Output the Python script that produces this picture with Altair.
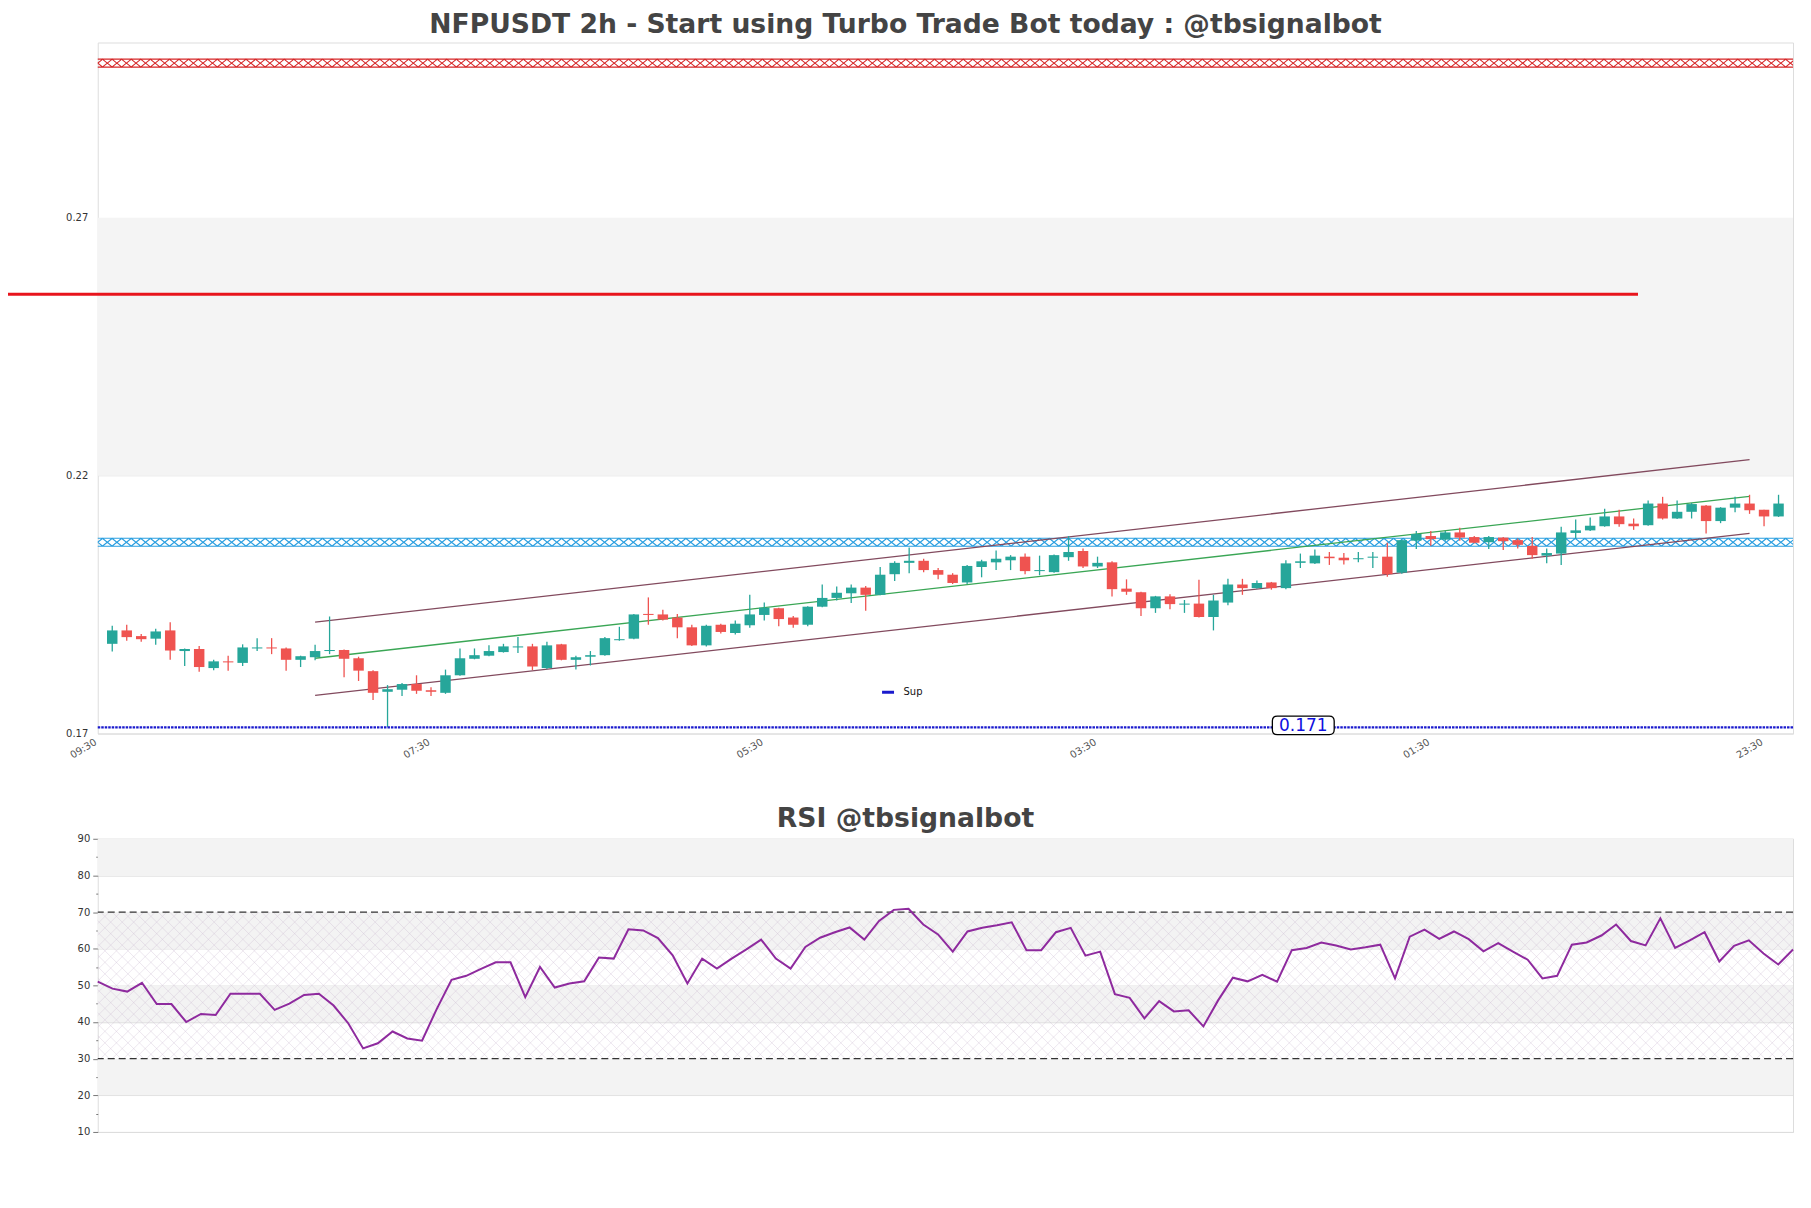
import altair as alt
import pandas as pd

FONT = "DejaVu Sans"
title_main = "NFPUSDT 2h - Start using Turbo Trade Bot today : @tbsignalbot"
title_rsi = "RSI @tbsignalbot"

# ---- candles (2h bars, first bar at 11:30) ----
opens = [0.1874, 0.1900, 0.1889, 0.1884, 0.1900, 0.1860, 0.1864, 0.1827, 0.1840, 0.1837,
         0.1865, 0.1867, 0.1865, 0.1843, 0.1848, 0.1860, 0.1862, 0.1846, 0.1821, 0.1781,
         0.1785, 0.1796, 0.1784, 0.1779, 0.1813, 0.1845, 0.1851, 0.1858, 0.1867, 0.1869,
         0.1827, 0.1873, 0.1843, 0.1849, 0.1852, 0.1881, 0.1884, 0.1932, 0.1931, 0.1925,
         0.1906, 0.1871, 0.1911, 0.1895, 0.1910, 0.1930, 0.1943, 0.1925, 0.1911, 0.1946,
         0.1963, 0.1972, 0.1983, 0.1969, 0.2009, 0.2031, 0.2035, 0.2017, 0.2008, 0.1993,
         0.2023, 0.2032, 0.2036, 0.2043, 0.2015, 0.2013, 0.2042, 0.2054, 0.2024, 0.2032,
         0.1981, 0.1974, 0.1943, 0.1966, 0.1950, 0.1952, 0.1926, 0.1954, 0.1989, 0.1982,
         0.1993, 0.1982, 0.2031, 0.2030, 0.2043, 0.2041, 0.2038, 0.2041, 0.2043, 0.2012,
         0.2074, 0.2083, 0.2076, 0.2090, 0.2081, 0.2071, 0.2080, 0.2075, 0.2064, 0.2045,
         0.2049, 0.2089, 0.2094, 0.2102, 0.2121, 0.2107, 0.2104, 0.2146, 0.2117, 0.2130,
         0.2142, 0.2112, 0.2138, 0.2146, 0.2134, 0.2121]
highs = [0.1909, 0.1911, 0.1893, 0.1903, 0.1916, 0.1865, 0.1870, 0.1843, 0.1851, 0.1873,
         0.1885, 0.1885, 0.1867, 0.1851, 0.1872, 0.1927, 0.1863, 0.1849, 0.1823, 0.1794,
         0.1798, 0.1813, 0.1790, 0.1824, 0.1865, 0.1865, 0.1871, 0.1874, 0.1887, 0.1874,
         0.1878, 0.1874, 0.1851, 0.1860, 0.1887, 0.1907, 0.1932, 0.1964, 0.1940, 0.1932,
         0.1911, 0.1911, 0.1913, 0.1919, 0.1969, 0.1954, 0.1944, 0.1928, 0.1947, 0.1989,
         0.1985, 0.1989, 0.1986, 0.2023, 0.2034, 0.2061, 0.2039, 0.2021, 0.2011, 0.2027,
         0.2037, 0.2055, 0.2046, 0.2049, 0.2045, 0.2047, 0.2083, 0.2059, 0.2043, 0.2034,
         0.1999, 0.1975, 0.1967, 0.1970, 0.1959, 0.1998, 0.1969, 0.2000, 0.2000, 0.1997,
         0.1994, 0.2036, 0.2049, 0.2057, 0.2052, 0.2050, 0.2052, 0.2052, 0.2070, 0.2076,
         0.2093, 0.2093, 0.2093, 0.2099, 0.2083, 0.2083, 0.2081, 0.2078, 0.2081, 0.2059,
         0.2101, 0.2115, 0.2119, 0.2136, 0.2134, 0.2117, 0.2152, 0.2159, 0.2152, 0.2147,
         0.2143, 0.2139, 0.2159, 0.2163, 0.2134, 0.2163]
lows = [0.1859, 0.1880, 0.1878, 0.1872, 0.1843, 0.1831, 0.1820, 0.1823, 0.1822, 0.1831,
        0.1860, 0.1854, 0.1822, 0.1829, 0.1842, 0.1854, 0.1809, 0.1802, 0.1765, 0.1713,
        0.1773, 0.1777, 0.1773, 0.1777, 0.1812, 0.1844, 0.1850, 0.1857, 0.1856, 0.1823,
        0.1825, 0.1842, 0.1824, 0.1832, 0.1851, 0.1880, 0.1883, 0.1911, 0.1919, 0.1885,
        0.1870, 0.1869, 0.1894, 0.1892, 0.1905, 0.1919, 0.1908, 0.1905, 0.1908, 0.1945,
        0.1958, 0.1953, 0.1938, 0.1968, 0.1996, 0.2011, 0.2013, 0.1999, 0.1990, 0.1990,
        0.2003, 0.2017, 0.2017, 0.2009, 0.2007, 0.2012, 0.2035, 0.2021, 0.2021, 0.1966,
        0.1969, 0.1928, 0.1934, 0.1941, 0.1934, 0.1925, 0.1900, 0.1949, 0.1969, 0.1981,
        0.1979, 0.1980, 0.2021, 0.2029, 0.2027, 0.2028, 0.2032, 0.2021, 0.2004, 0.2010,
        0.2058, 0.2064, 0.2074, 0.2074, 0.2069, 0.2058, 0.2056, 0.2059, 0.2039, 0.2030,
        0.2027, 0.2078, 0.2093, 0.2101, 0.2101, 0.2095, 0.2103, 0.2115, 0.2116, 0.2117,
        0.2088, 0.2108, 0.2129, 0.2126, 0.2102, 0.2120]
closes = [0.1900, 0.1887, 0.1883, 0.1898, 0.1861, 0.1864, 0.1829, 0.1840, 0.1838, 0.1867,
          0.1867, 0.1865, 0.1843, 0.1850, 0.1860, 0.1862, 0.1845, 0.1822, 0.1779, 0.1786,
          0.1796, 0.1783, 0.1781, 0.1813, 0.1846, 0.1852, 0.1860, 0.1869, 0.1869, 0.1830,
          0.1871, 0.1843, 0.1848, 0.1852, 0.1885, 0.1883, 0.1931, 0.1930, 0.1921, 0.1906,
          0.1871, 0.1909, 0.1897, 0.1913, 0.1931, 0.1944, 0.1922, 0.1911, 0.1946, 0.1963,
          0.1973, 0.1983, 0.1969, 0.2008, 0.2031, 0.2035, 0.2017, 0.2008, 0.1992, 0.2025,
          0.2034, 0.2039, 0.2043, 0.2015, 0.2017, 0.2046, 0.2052, 0.2024, 0.2031, 0.1980,
          0.1975, 0.1943, 0.1966, 0.1951, 0.1952, 0.1926, 0.1958, 0.1989, 0.1982, 0.1992,
          0.1982, 0.2030, 0.2034, 0.2045, 0.2040, 0.2036, 0.2040, 0.2043, 0.2009, 0.2075,
          0.2087, 0.2077, 0.2090, 0.2080, 0.2070, 0.2081, 0.2073, 0.2066, 0.2046, 0.2050,
          0.2090, 0.2094, 0.2103, 0.2121, 0.2106, 0.2102, 0.2146, 0.2117, 0.2130, 0.2145,
          0.2112, 0.2138, 0.2146, 0.2133, 0.2121, 0.2146]

rsi_values = [51.0, 49.1, 48.3, 50.7, 44.9, 44.9, 40.0, 42.2, 41.9, 47.7,
              47.7, 47.7, 43.3, 45.0, 47.4, 47.7, 44.5, 39.6, 32.8, 34.2,
              37.4, 35.5, 34.9, 43.6, 51.5, 52.6, 54.5, 56.3, 56.3, 46.8,
              55.0, 49.4, 50.5, 51.1, 57.6, 57.3, 65.3, 65.0, 62.9, 58.2,
              50.5, 57.3, 54.6, 57.3, 59.8, 62.5, 57.3, 54.6, 60.5, 63.0,
              64.5, 65.8, 62.5, 67.6, 70.6, 70.9, 66.6, 63.9, 59.2, 64.7,
              65.7, 66.4, 67.2, 59.6, 59.6, 64.5, 65.7, 58.1, 59.2, 47.6,
              46.6, 41.0, 45.7, 42.9, 43.2, 38.8, 45.9, 52.1, 51.1, 52.9,
              51.0, 59.6, 60.2, 61.7, 60.9, 59.8, 60.4, 61.1, 51.9, 63.3,
              65.2, 62.7, 64.7, 62.6, 59.3, 61.5, 59.2, 57.0, 51.9, 52.6,
              61.1, 61.7, 63.6, 66.6, 62.1, 60.9, 68.3, 60.2, 62.3, 64.5,
              56.5, 60.8, 62.3, 58.7, 55.7, 59.8]

tick_index = [-1, 22, 45, 68, 91, 114]
tick_labels = ["09:30", "07:30", "05:30", "03:30", "01:30", "23:30"]
price_ticks = [0.17, 0.22, 0.27]
price_domain = [0.17, 0.304]
x_domain = [-1, 116]
grey_band = [0.22, 0.27]

resist_hatch_level = 0.300
support_hatch_level = 0.2071
red_line_level = 0.2552
red_line_span = [-7.3, 105.3]
sup_level = 0.1712
sup_label_text = "0.171"
sup_label_pos = [82.2, 0.1716]

channel_span = [14, 113]
channel_upper = [0.1916, 0.2231]
channel_mid = [0.1846, 0.2160]
channel_lower = [0.1774, 0.2088]

rsi_domain = [10, 90]
rsi_grey_bands = [[80, 90], [60, 70], [40, 50], [20, 30]]
rsi_levels = [70, 30]

# ---- frames ----
n = len(opens)
candles = pd.DataFrame({"i": list(range(n)), "open": opens, "high": highs,
                        "low": lows, "close": closes})
rsi_df = pd.DataFrame({"i": list(range(n)), "rsi": rsi_values})

UP, DOWN = "#26a69a", "#ef5350"
up_test = "datum.close >= datum.open"

xs = alt.Scale(domain=x_domain, nice=False, zero=False)
ys = alt.Scale(domain=price_domain, nice=False, zero=False)

label_expr = " : ".join(f"datum.value == {v} ? '{t}'" for v, t in zip(tick_index, tick_labels)) + " : ''"
x_axis = alt.Axis(values=tick_index, labelExpr=label_expr, labelAngle=-31, labelAlign="right",
                  labelBaseline="top", labelFontSize=10, labelFont=FONT, labelColor="#555555",
                  ticks=False, domain=False, grid=False, title=None, labelPadding=3,
                  labelOffset=-5)
y_axis = alt.Axis(values=price_ticks, format=".2f", labelFontSize=10, labelFont=FONT,
                  labelColor="#333333", ticks=False, domain=False, grid=True,
                  gridColor="#dddddd", title=None, labelPadding=10)


def X(f):
    return alt.X(f, type="quantitative", scale=xs, axis=x_axis)


def Y(f):
    return alt.Y(f, type="quantitative", scale=ys, axis=y_axis)


band = alt.Chart(pd.DataFrame({"lo": [grey_band[0]], "hi": [grey_band[1]]})).mark_rect(
    color="#f4f4f4").encode(y=Y("lo"), y2="hi")

HATCH = "M-1,-0.8L1,0.8M-1,0.8L1,-0.8M-1,-0.8L1,-0.8M-1,0.8L1,0.8"


def hatch_line(level, color):
    return alt.Chart(alt.sequence(x_domain[0], x_domain[1] + 0.01, 0.66, as_="i")).transform_calculate(
        lvl=str(level)).mark_point(shape=HATCH, size=100, filled=False, strokeWidth=1.1,
                                   color=color, opacity=1, clip=True).encode(x=X("i"), y=Y("lvl"))


red_hatch = hatch_line(resist_hatch_level, "#d62728")
blue_hatch = hatch_line(support_hatch_level, "#2b9fe0")

red_line = alt.Chart(pd.DataFrame({"x": [red_line_span[0]], "x2": [red_line_span[1]],
                                   "y": [red_line_level]})).mark_rule(
    color="#e8141c", strokeWidth=3).encode(x=X("x"), x2="x2", y=Y("y"))

chan_df = pd.DataFrame({
    "x": [channel_span[0]] * 3, "x2": [channel_span[1]] * 3,
    "y": [channel_upper[0], channel_mid[0], channel_lower[0]],
    "y2": [channel_upper[1], channel_mid[1], channel_lower[1]],
    "kind": ["upper", "mid", "lower"]})
channel = alt.Chart(chan_df).mark_rule(strokeWidth=1.3).encode(
    x=X("x"), x2="x2", y=Y("y"), y2="y2",
    color=alt.condition("datum.kind == 'mid'", alt.value("#3aa655"), alt.value("#824a5e")))

base = alt.Chart(candles)
wicks = base.mark_rule(strokeWidth=1.3).encode(
    x=X("i"), y=Y("low"), y2="high",
    color=alt.condition(up_test, alt.value(UP), alt.value(DOWN)))
bodies = base.mark_rule(strokeWidth=10.5, strokeCap="butt").encode(
    x=X("i"), y=Y("open"), y2="close",
    color=alt.condition(up_test, alt.value(UP), alt.value(DOWN)))

sup = alt.Chart(pd.DataFrame({"y": [sup_level], "name": ["Sup"]})).mark_rule(
    strokeDash=[2.5, 1], strokeWidth=2.5).encode(
    y=Y("y"),
    color=alt.Color("name:N", scale=alt.Scale(domain=["Sup"], range=["#1a1acd"]),
                    legend=alt.Legend(orient="none", legendX=785, legendY=644, title=None,
                                      symbolType="stroke", symbolStrokeWidth=3, symbolSize=144,
                                      symbolDash=[1, 0], labelFont=FONT, labelFontSize=10,
                                      labelColor="#111111", labelOffset=8)))

BOX = ("M-0.84,-0.3L0.84,-0.3Q1,-0.3 1,-0.14L1,0.14Q1,0.3 0.84,0.3L-0.84,0.3"
       "Q-1,0.3 -1,0.14L-1,-0.14Q-1,-0.3 -0.84,-0.3Z")
lab_df = pd.DataFrame({"x": [sup_label_pos[0]], "y": [sup_label_pos[1]], "t": [sup_label_text]})
lab_box = alt.Chart(lab_df).mark_point(shape=BOX, size=3844, filled=True, fill="white",
                                       stroke="black", strokeWidth=1.3, opacity=1).encode(
    x=X("x"), y=Y("y"))
lab_txt = alt.Chart(lab_df).mark_text(font=FONT, fontSize=17, color="#1010e0", baseline="middle",
                                      align="center", dy=0.5).encode(x=X("x"), y=Y("y"), text="t:N")

main = alt.layer(band, red_hatch, blue_hatch, red_line, channel, wicks, bodies, sup,
                 lab_box, lab_txt).properties(
    width=1700, height=693,
    title=alt.Title(title_main, font=FONT, fontSize=26.7, fontWeight="bold", color="#444444",
                    anchor="middle", frame="group", dx=-40, offset=-17.5, baseline="alphabetic"))

# ---- RSI panel ----
rxs = alt.Scale(domain=[0, n - 1], nice=False, zero=False)
rys = alt.Scale(domain=rsi_domain, nice=False, zero=False)
rsi_axis = alt.Axis(values=list(range(10, 95, 5)),
                    labelExpr="datum.value % 10 === 0 ? datum.label : ''",
                    tickSize={"condition": {"test": "datum.value % 10 === 0", "value": 5}, "value": 2},
                    tickColor="#777777",
                    gridOpacity={"condition": {"test": "datum.value % 10 === 0", "value": 1}, "value": 0},
                    gridColor="#dddddd", labelFontSize=10, labelFont=FONT, labelColor="#333333",
                    domain=False, title=None, labelPadding=3)


def RX(f):
    return alt.X(f, type="quantitative", scale=rxs, axis=None)


def RY(f):
    return alt.Y(f, type="quantitative", scale=rys, axis=rsi_axis)


rband = alt.Chart(pd.DataFrame({"lo": [b[0] for b in rsi_grey_bands],
                                "hi": [b[1] for b in rsi_grey_bands]})).mark_rect(
    color="#f3f3f3").encode(y=RY("lo"), y2="hi")

# cross-hatch between the 30 and 70 levels (decoration)
span_x = (rsi_levels[0] - rsi_levels[1]) * (294 / 80) / (1700 / (n - 1))
hatch_a = alt.Chart(alt.sequence(-span_x, n, 0.78, as_="s")).transform_calculate(
    x="datum.s", x2=f"datum.s + {span_x}", y=str(rsi_levels[1]), y2=str(rsi_levels[0])).mark_rule(
    color="#cdbbd2", strokeWidth=0.6, opacity=0.6, clip=True).encode(
    x=RX("x"), x2="x2", y=RY("y"), y2="y2")
hatch_b = alt.Chart(alt.sequence(-span_x, n, 0.78, as_="s")).transform_calculate(
    x="datum.s", x2=f"datum.s + {span_x}", y=str(rsi_levels[0]), y2=str(rsi_levels[1])).mark_rule(
    color="#cdbbd2", strokeWidth=0.6, opacity=0.6, clip=True).encode(
    x=RX("x"), x2="x2", y=RY("y"), y2="y2")

rlevels = alt.Chart(pd.DataFrame({"y": rsi_levels})).mark_rule(
    color="#333333", strokeDash=[7, 4], strokeWidth=1.2).encode(y=RY("y"))

rline = alt.Chart(rsi_df).mark_line(color="#8e2a9e", strokeWidth=2).encode(
    x=RX("i"), y=RY("rsi"))

rsi_chart = alt.layer(rband, hatch_a, hatch_b, rlevels, rline).properties(
    width=1700, height=294,
    title=alt.Title(title_rsi, font=FONT, fontSize=26.7, fontWeight="bold", color="#444444",
                    anchor="middle", frame="group", dx=-40, offset=-20, baseline="alphabetic"))

chart = alt.vconcat(main, rsi_chart, spacing=44.5).resolve_scale(
    x="independent", y="independent", color="independent").resolve_legend(
    color="independent").properties(
    padding={"left": -4, "top": 2, "right": 5, "bottom": 5}, background="white").configure_view(
    stroke="#dddddd", strokeWidth=1)

chart.save("out.html", embed_options={"renderer": "svg", "actions": False})
